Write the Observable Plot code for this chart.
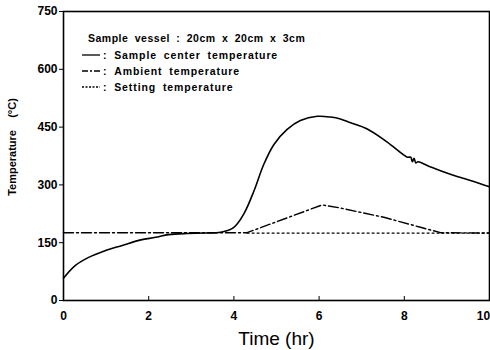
<!DOCTYPE html>
<html>
<head>
<meta charset="utf-8">
<script src="https://cdn.jsdelivr.net/npm/d3@7"></script>
<script src="https://cdn.jsdelivr.net/npm/@observablehq/plot@0.6"></script>
<style>
  html, body { margin: 0; padding: 0; background: #fff; }
  #wrap { position: relative; width: 490px; height: 350px; font-family: "Liberation Sans", Arial, sans-serif; }
  #legend { position: absolute; left: 82px; top: 30px; font-weight: bold; font-size: 10.5px; color: #000; letter-spacing: 0.5px; word-spacing: 3px; }
  #legend .title { margin-left: 6px; height: 17px; line-height: 17px; }
  #legend .row { display: flex; align-items: center; height: 16px; letter-spacing: 0.9px; word-spacing: 3px; }
  #legend .row svg { margin-right: 3px; }
</style>
</head>
<body>
<div id="wrap"><div id="legend"></div></div>
<script>
// Sample center temperature (solid)
const centerTime = [0, 0.28, 0.59, 0.99, 1.38, 1.77, 2.16, 2.47, 2.9, 3.3, 3.69, 4.0, 4.23, 4.47, 4.7, 4.94, 5.25, 5.56, 5.96, 6.27, 6.5, 6.74, 7.13, 7.6, 8.07, 8.15, 8.19, 8.23, 8.27, 8.32, 8.55, 8.85, 9.24, 9.63, 10];
const centerTemp = [58, 91, 112, 130, 143, 156, 164, 171, 174, 175, 177, 190, 224, 284, 353, 405, 444, 467, 478, 476, 471, 461, 445, 411, 372, 372, 360, 369, 357, 360, 350, 337, 322, 309, 295];
// Ambient temperature (dash-dot)
const ambientTime = [0, 4.31, 6.07, 6.5, 7.52, 8.38, 8.85, 10];
const ambientTemp = [176, 176, 248, 240, 216, 190, 176, 175];
// Setting temperature (dotted) — visible part
const settingTime = [4.31, 10];
const settingTemp = [175, 175];

const xTicks = [0, 2, 4, 6, 8];
const xLastTick = [10];
const yTicks = [0, 150, 300, 450, 600, 750];

const legendTitle = "Sample vessel : 20cm x 20cm x 3cm";
const seriesNames = ["Sample center temperature", "Ambient temperature", "Setting temperature"];
const seriesDash = [null, "10,3,2,3", "2,3"];
const legendDash = [null, "6,2,2,2", "2,1.5"];

const zip = (xs, ys) => xs.map((x, i) => ({x, y: ys[i]}));

const chart = Plot.plot({
  width: 490,
  height: 350,
  marginLeft: 63,
  marginRight: 1,
  marginTop: 11,
  marginBottom: 50,
  style: {fontFamily: "Liberation Sans, Arial, sans-serif", fontWeight: "bold", fontSize: "12px", color: "#000", background: "#fff"},
  x: {domain: [0, 10]},
  y: {domain: [0, 750]},
  marks: [
    Plot.frame({stroke: "#000", strokeWidth: 1.6}),
    Plot.axisY({ticks: yTicks, tickSize: 4, tickPadding: 2, label: null, fontSize: 12, fontWeight: "bold"}),
    Plot.axisX({ticks: xTicks, tickSize: -4, tickPadding: 15, label: null, fontSize: 12, fontWeight: "bold"}),
    Plot.axisX({ticks: xLastTick, tickSize: 0, tickPadding: 11, dx: -6, label: null, fontSize: 12, fontWeight: "bold"}),
    Plot.line(zip(settingTime, settingTemp), {x: "x", y: "y", stroke: "#000", strokeWidth: 1.3, strokeDasharray: seriesDash[2]}),
    Plot.line(zip(ambientTime, ambientTemp), {x: "x", y: "y", stroke: "#000", strokeWidth: 1.4, strokeDasharray: seriesDash[1]}),
    Plot.line(zip(centerTime, centerTemp), {x: "x", y: "y", stroke: "#000", strokeWidth: 1.6, curve: "catmull-rom"}),
    Plot.text(["Temperature\u00a0\u00a0\u00a0\u00a0(°C)"], {frameAnchor: "left", textAnchor: "middle", rotate: -90, dx: -51, dy: -9, fontSize: 11, fontWeight: "bold", fill: "#000"}),
    Plot.text(["Time (hr)"], {frameAnchor: "bottom", dy: 44, fontSize: 19, fontWeight: "normal", fill: "#000"})
  ]
});

document.getElementById("wrap").prepend(chart);

const legend = document.getElementById("legend");
const t = document.createElement("div");
t.className = "title";
t.textContent = legendTitle;
legend.appendChild(t);
seriesNames.forEach((name, i) => {
  const row = document.createElement("div");
  row.className = "row";
  const dash = legendDash[i] ? ` stroke-dasharray="${legendDash[i]}"` : "";
  row.innerHTML = `<svg width="18" height="6"><line x1="0" y1="3" x2="18" y2="3" stroke="#000" stroke-width="1.3"${dash}/></svg><span>:&nbsp;${name}</span>`;
  legend.appendChild(row);
});
</script>
</body>
</html>
